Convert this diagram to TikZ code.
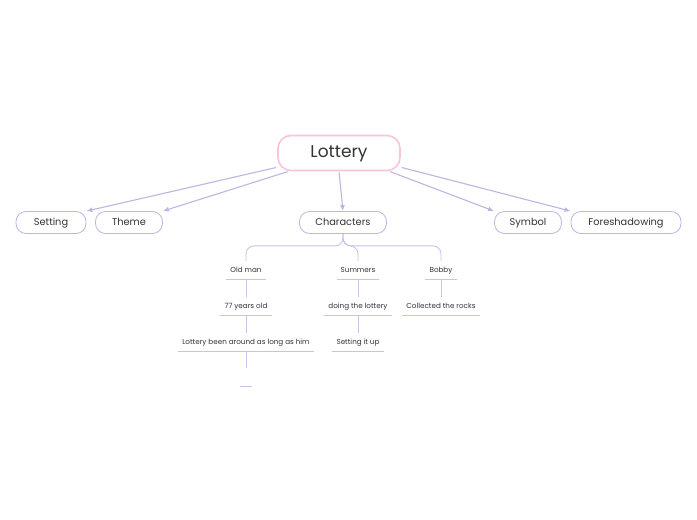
\documentclass[tikz,border=0pt]{standalone}
\usepackage{fontspec}
\setmainfont{Poppins}
\usetikzlibrary{arrows.meta}
\definecolor{lav}{HTML}{BDB6E3}
\definecolor{lavline}{HTML}{C8C3EA}
\definecolor{pinkb}{HTML}{F8C6DC}
\definecolor{ink}{HTML}{333333}

\begin{document}
\begin{tikzpicture}[x=1pt,y=-1pt,
 root/.style={draw=pinkb,fill=white,line width=1.6pt,rounded corners=13pt,minimum width=122pt,minimum height=35pt,text height=0.95em,text depth=0.13em,font=\fontsize{17}{20}\selectfont,text=ink},
 topic/.style={draw=lav,fill=white,line width=0.8pt,rounded corners=10pt,minimum height=22pt,text height=0.72em,text depth=0.22em,font=\fontsize{9.8}{12}\selectfont,text=ink},
 sub/.style={inner xsep=4pt,minimum height=18pt,text height=0.72em,text depth=0.22em,font=\fontsize{7.2}{9}\selectfont,text=ink},
 arr/.style={-{Latex[length=6pt,width=5pt]},draw=lav,line width=1.1pt,shorten <=1pt},
 link/.style={draw=lavline,line width=0.9pt}]
\fill[white] (0,0) rectangle (697,520);
\useasboundingbox (0,0) rectangle (697,520);

% main topic and first level
\node[root] (root) at (339,153) {Lottery};
\node[topic,minimum width=70pt] (setting) at (51,222.5) {Setting};
\node[topic,minimum width=67pt] (theme) at (129,222.5) {Theme};
\node[topic,minimum width=87pt] (chars) at (343,222.5) {Characters};
\node[topic,minimum width=67pt] (symbol) at (528,222.5) {Symbol};
\node[topic,minimum width=110pt] (fore) at (626,222.5) {Foreshadowing};

\draw[arr] (root.193) -- (setting.north east);
\draw[arr] (root.200) -- (theme.north east);
\draw[arr] (root.south) -- (chars.north);
\draw[arr] (root.-20) -- (symbol.north west);
\draw[arr] (root.-13) -- (fore.north west);

% characters
\node[sub] (old) at (246,270) {Old man};
\node[sub] (age) at (246,306) {77 years old};
\node[sub] (long) at (246,342) {Lottery been around as long as him};
\node[sub,minimum width=11pt,inner xsep=0pt] (blank) at (246,377) {};
\node[sub] (sum) at (358,270) {Summers};
\node[sub] (doing) at (358,306) {doing the lottery};
\node[sub] (setup) at (358,342) {Setting it up};
\node[sub] (bob) at (441,270) {Bobby};
\node[sub] (rocks) at (441,306) {Collected the rocks};

\foreach \n in {old,age,long,blank,sum,doing,setup,bob,rocks}
  \draw[link] (\n.south west) -- (\n.south east);

\draw[link,rounded corners=8pt] (chars.south) -- ++(0,12) -| (old.north);
\draw[link,rounded corners=8pt] (chars.south) -- ++(0,12) -| (sum.north);
\draw[link,rounded corners=8pt] (chars.south) -- ++(0,12) -| (bob.north);
\draw[link] (old.south) -- (age.north);
\draw[link] (age.south) -- (long.north);
\draw[link] (long.south) -- (blank.north);
\draw[link] (sum.south) -- (doing.north);
\draw[link] (doing.south) -- (setup.north);
\draw[link] (bob.south) -- (rocks.north);
\end{tikzpicture}
\end{document}
